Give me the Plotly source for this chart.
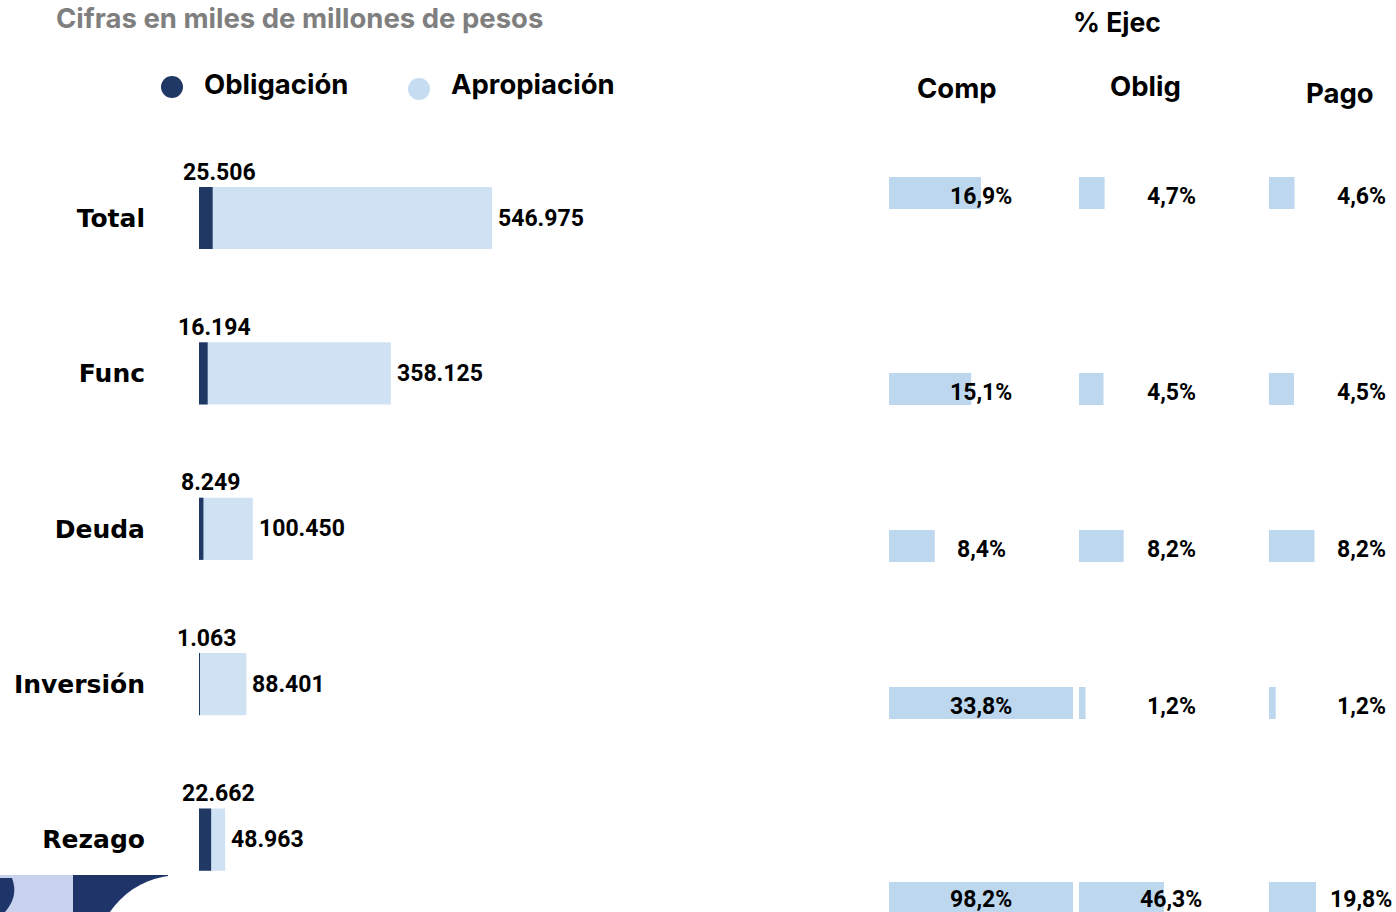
import plotly.graph_objects as go

W, H = 1396, 912

# ---------------- data ----------------
categories = ["Total", "Func", "Deuda", "Inversión", "Rezago"]
obligacion = [25506, 16194, 8249, 1063, 22662]
apropiacion = [546975, 358125, 100450, 88401, 48963]

pct_headers = ["Comp", "Oblig", "Pago"]
pct_comp = [16.9, 15.1, 8.4, 33.8, 98.2]
pct_oblig = [4.7, 4.5, 8.2, 1.2, 46.3]
pct_pago = [4.6, 4.5, 8.2, 1.2, 19.8]

# ---------------- styling ----------------
NAVY = "#203864"
LIGHT = "#cfe2f3"
PCT = "#bdd7ee"
FONT = "Inter"
NUMFONT = "Roboto"


def px(x):
    return x / W


def py(y):
    return 1 - y / H


def miles(v):
    return f"{v:,}".replace(",", ".")


def pct(v):
    return f"{v:.1f}%".replace(".", ",")


fig = go.Figure()

# ---------------- left chart ----------------
fig.add_trace(go.Bar(orientation="h", x=apropiacion, y=categories, width=0.4,
                     marker=dict(color=LIGHT, line=dict(width=0)),
                     name="Apropiación", xaxis="x", yaxis="y", showlegend=False))
fig.add_trace(go.Bar(orientation="h", x=obligacion, y=categories, width=0.4,
                     marker=dict(color=NAVY, line=dict(width=0)),
                     name="Obligación", xaxis="x", yaxis="y", showlegend=False))

ROW_STEP = 155.4
top_c = 218
left_x0 = 199
left_scale = 293 / 546975  # px per unit
x_max = 600000
layout_axes = {}
layout_axes["xaxis"] = dict(domain=[px(left_x0), px(left_x0 + x_max * left_scale)],
                            range=[0, x_max], visible=False, anchor="y", fixedrange=True)
y_top_px = top_c - 0.5 * ROW_STEP
y_bot_px = top_c + 4.4 * ROW_STEP
layout_axes["yaxis"] = dict(domain=[py(y_bot_px), py(y_top_px)], range=[4.4, -0.5],
                            type="category", categoryarray=categories,
                            categoryorder="array", anchor="x",
                            showgrid=False, zeroline=False, showline=False, ticks="",
                            ticklabelstandoff=53,
                            tickfont=dict(family="DejaVu Sans", size=25, color="black",
                                          weight="bold"))

annotations = []
for c, o, a in zip(categories, obligacion, apropiacion):
    annotations.append(dict(x=o, y=c, xref="x", yref="y", text=miles(o), showarrow=False,
                            xanchor="center", yanchor="middle", xshift=7, yshift=46,
                            font=dict(family=NUMFONT, size=23, color="black", weight="bold")))
    annotations.append(dict(x=a, y=c, xref="x", yref="y", text=miles(a), showarrow=False,
                            xanchor="left", yanchor="middle", xshift=4, yshift=0,
                            font=dict(family=NUMFONT, size=23, color="black", weight="bold")))

# ---------------- right panel (% Ejec) ----------------
col_x0 = [889, 1079, 1269]
col_w = 184
col_clip = [184, 85, 47]  # visible width of each column's plot area
col_scale = [184 / 33.8, 184 / 33.8, 5.55]
row_cy = [193, 389, 546, 703, 898]
BAR_H = 32
pct_cols = [pct_comp, pct_oblig, pct_pago]

for j in range(3):
    layout_axes[f"xaxis{2 + j}"] = dict(domain=[px(col_x0[j]), px(col_x0[j] + col_clip[j])],
                                        range=[0, col_clip[j] / col_scale[j]],
                                        visible=False, anchor="y2", fixedrange=True)
for i, cy in enumerate(row_cy):
    top = cy - 20
    bot = min(cy + 20, H)
    layout_axes[f"yaxis{2 + i}"] = dict(domain=[py(bot), py(top)],
                                        range=[-(bot - cy) / BAR_H, (cy - top) / BAR_H],
                                        type="category", visible=False, anchor="x2",
                                        fixedrange=True)

for j, vals in enumerate(pct_cols):
    for i, v in enumerate(vals):
        fig.add_trace(go.Bar(orientation="h", x=[v], y=[categories[i]], width=1,
                             marker=dict(color=PCT, line=dict(width=0)),
                             xaxis=f"x{2 + j}", yaxis=f"y{2 + i}", showlegend=False,
                             name=pct_headers[j]))
        ty = min(row_cy[i] + 3, H - 13)
        annotations.append(dict(x=px(col_x0[j] + col_w / 2), y=py(ty),
                                xref="paper", yref="paper", text=pct(v), showarrow=False,
                                xanchor="center", yanchor="middle", borderpad=0,
                                font=dict(family=NUMFONT, size=23, color="black", weight="bold")))

# headers
annotations.append(dict(x=px(1117), y=py(22), xref="paper", yref="paper", text="% Ejec",
                        showarrow=False, xanchor="center", yanchor="middle",
                        font=dict(family=FONT, size=26.5, color="black", weight="bold")))
for name, hx, hy in zip(pct_headers, [957, 1145, 1340], [88, 86, 93]):
    annotations.append(dict(x=px(hx), y=py(hy), xref="paper", yref="paper", text=name,
                            showarrow=False, xanchor="center", yanchor="middle",
                            font=dict(family=FONT, size=27.5, color="black", weight="bold")))

# title
annotations.append(dict(x=px(55), y=py(0), xref="paper", yref="paper",
                        text="Cifras en miles de millones de pesos", showarrow=False,
                        xanchor="left", yanchor="top", borderpad=0,
                        font=dict(family=FONT, size=27.5, color="#7f7f7f", weight="bold")))

# legend
annotations.append(dict(x=px(202), y=py(84), xref="paper", yref="paper", text="Obligación",
                        showarrow=False, xanchor="left", yanchor="middle",
                        font=dict(family=FONT, size=27.5, color="black", weight="bold")))
annotations.append(dict(x=px(449), y=py(84), xref="paper", yref="paper", text="Apropiación",
                        showarrow=False, xanchor="left", yanchor="middle",
                        font=dict(family=FONT, size=27.5, color="black", weight="bold")))

shapes = [
    dict(type="circle", xref="paper", yref="paper", x0=px(161), x1=px(183), y0=py(98), y1=py(76),
         fillcolor=NAVY, line=dict(width=0)),
    dict(type="circle", xref="paper", yref="paper", x0=px(408), x1=px(430), y0=py(100), y1=py(78),
         fillcolor="#c6dcf1", line=dict(width=0)),
]

# bottom-left decoration
shapes.append(dict(type="rect", xref="paper", yref="paper", x0=px(0), x1=px(73), y0=py(912), y1=py(875),
                   fillcolor="#c8d2ee", line=dict(width=0)))
blob = (f"M {px(0)},{py(878)} L {px(12)},{py(878)} Q {px(19)},{py(896)} {px(5)},{py(912)} "
        f"L {px(0)},{py(912)} Z")
shapes.append(dict(type="path", xref="paper", yref="paper", path=blob,
                   fillcolor="#1f3468", line=dict(width=0)))
shapes.append(dict(type="rect", xref="paper", yref="paper", x0=px(73), x1=px(168), y0=py(912), y1=py(875),
                   fillcolor="#1f3468", line=dict(width=0)))
shapes.append(dict(type="circle", xref="paper", yref="paper", x0=px(95), x1=px(265), y0=py(1045), y1=py(875),
                   fillcolor="white", line=dict(width=0)))

fig.update_layout(
    width=W, height=H,
    margin=dict(l=0, r=0, t=0, b=0),
    paper_bgcolor="white", plot_bgcolor="rgba(0,0,0,0)",
    barmode="overlay",
    showlegend=False,
    annotations=annotations,
    shapes=shapes,
    **layout_axes,
)

fig.write_html("out.html", post_script="document.body.style.margin='0';document.body.style.overflow='hidden';",
               config={"displayModeBar": False})
